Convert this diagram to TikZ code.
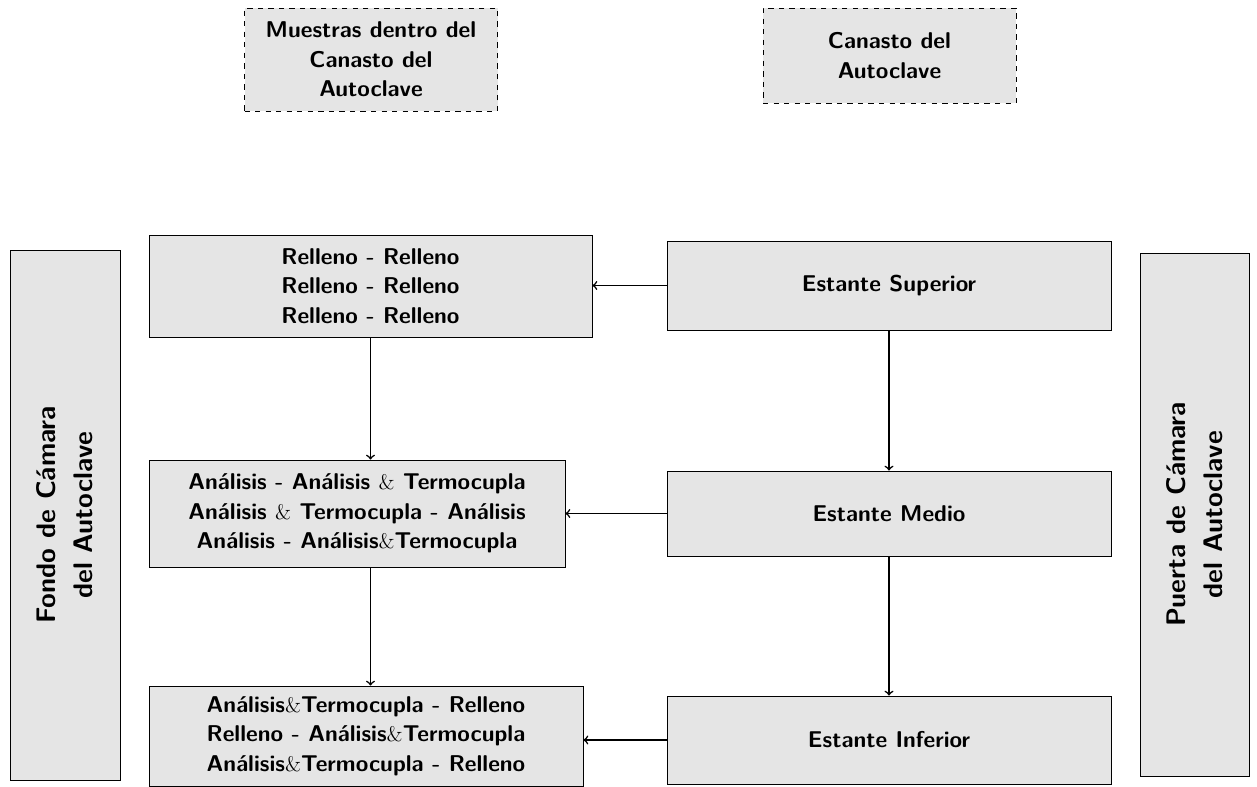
\documentclass[tikz,border=0pt]{standalone}
\tikzset{
	every picture/.append style={font=\sffamily\bfseries\fontsize{13}{16.8}\selectfont},
	mybox/.style = {rectangle, draw=black, align=center, fill=gray!20, line width=0.5pt, inner sep=0pt},
	mydash/.style = {mybox, dashed},
	myside/.style = {mybox, rotate=90, font=\sffamily\bfseries\fontsize{15.3}{21}\selectfont},
	myedge/.style = {draw=black,line width=0.9pt,->}
}
\begin{document}
\begin{tikzpicture}
				\useasboundingbox (0,0) rectangle (25.14,-15.74);
				\node[mydash, minimum width=5.06cm, minimum height=2.06cm] at (7.42,-1.19) (mues) {Muestras dentro del\\Canasto del\\Autoclave};
				\node[mydash, minimum width=5.06cm, minimum height=1.90cm] at (17.79,-1.11) (cana) {Canasto del\\Autoclave};
				\node[mybox, minimum width=8.86cm, minimum height=2.04cm] at (7.41,-5.72) (rell) {Relleno - Relleno\\Relleno - Relleno\\Relleno - Relleno};
				\node[mybox, minimum width=8.88cm, minimum height=1.78cm] at (17.78,-5.71) (sup) {Estante Superior};
				\node[mybox, minimum width=8.32cm, minimum height=2.14cm] at (7.14,-10.27) (anal) {An\'alisis - An\'alisis $\&$ Termocupla\\An\'alisis $\&$ Termocupla - An\'alisis\\An\'alisis - An\'alisis$\&$Termocupla};
				\node[mybox, minimum width=8.88cm, minimum height=1.70cm] at (17.78,-10.27) (med) {Estante Medio};
				\node[mybox, minimum width=8.68cm, minimum height=2.00cm] at (7.32,-14.72) (term) {An\'alisis$\&$Termocupla - Relleno\\Relleno - An\'alisis$\&$Termocupla\\An\'alisis$\&$Termocupla - Relleno};
				\node[mybox, minimum width=8.88cm, minimum height=1.76cm] at (17.78,-14.80) (inf) {Estante Inferior};
				\node[myside, minimum width=10.60cm, minimum height=2.20cm] at (1.30,-10.30) (fondo) {Fondo de C\'amara\\del Autoclave};
				\node[myside, minimum width=10.46cm, minimum height=2.18cm] at (23.89,-10.29) (puerta) {Puerta de C\'amara\\del Autoclave};
				\path (sup.west) edge [myedge] (sup.west -| rell.east);
				\path (med.west) edge [myedge] (med.west -| anal.east);
				\path (inf.west) edge [myedge] (inf.west -| term.east);
				\path (rell.south) edge [myedge] (rell.south |- anal.north);
				\path (rell.south |- anal.south) edge [myedge] (rell.south |- term.north);
				\path (sup) edge [myedge] (med);
				\path (med) edge [myedge] (inf);
			\end{tikzpicture}
\end{document}
